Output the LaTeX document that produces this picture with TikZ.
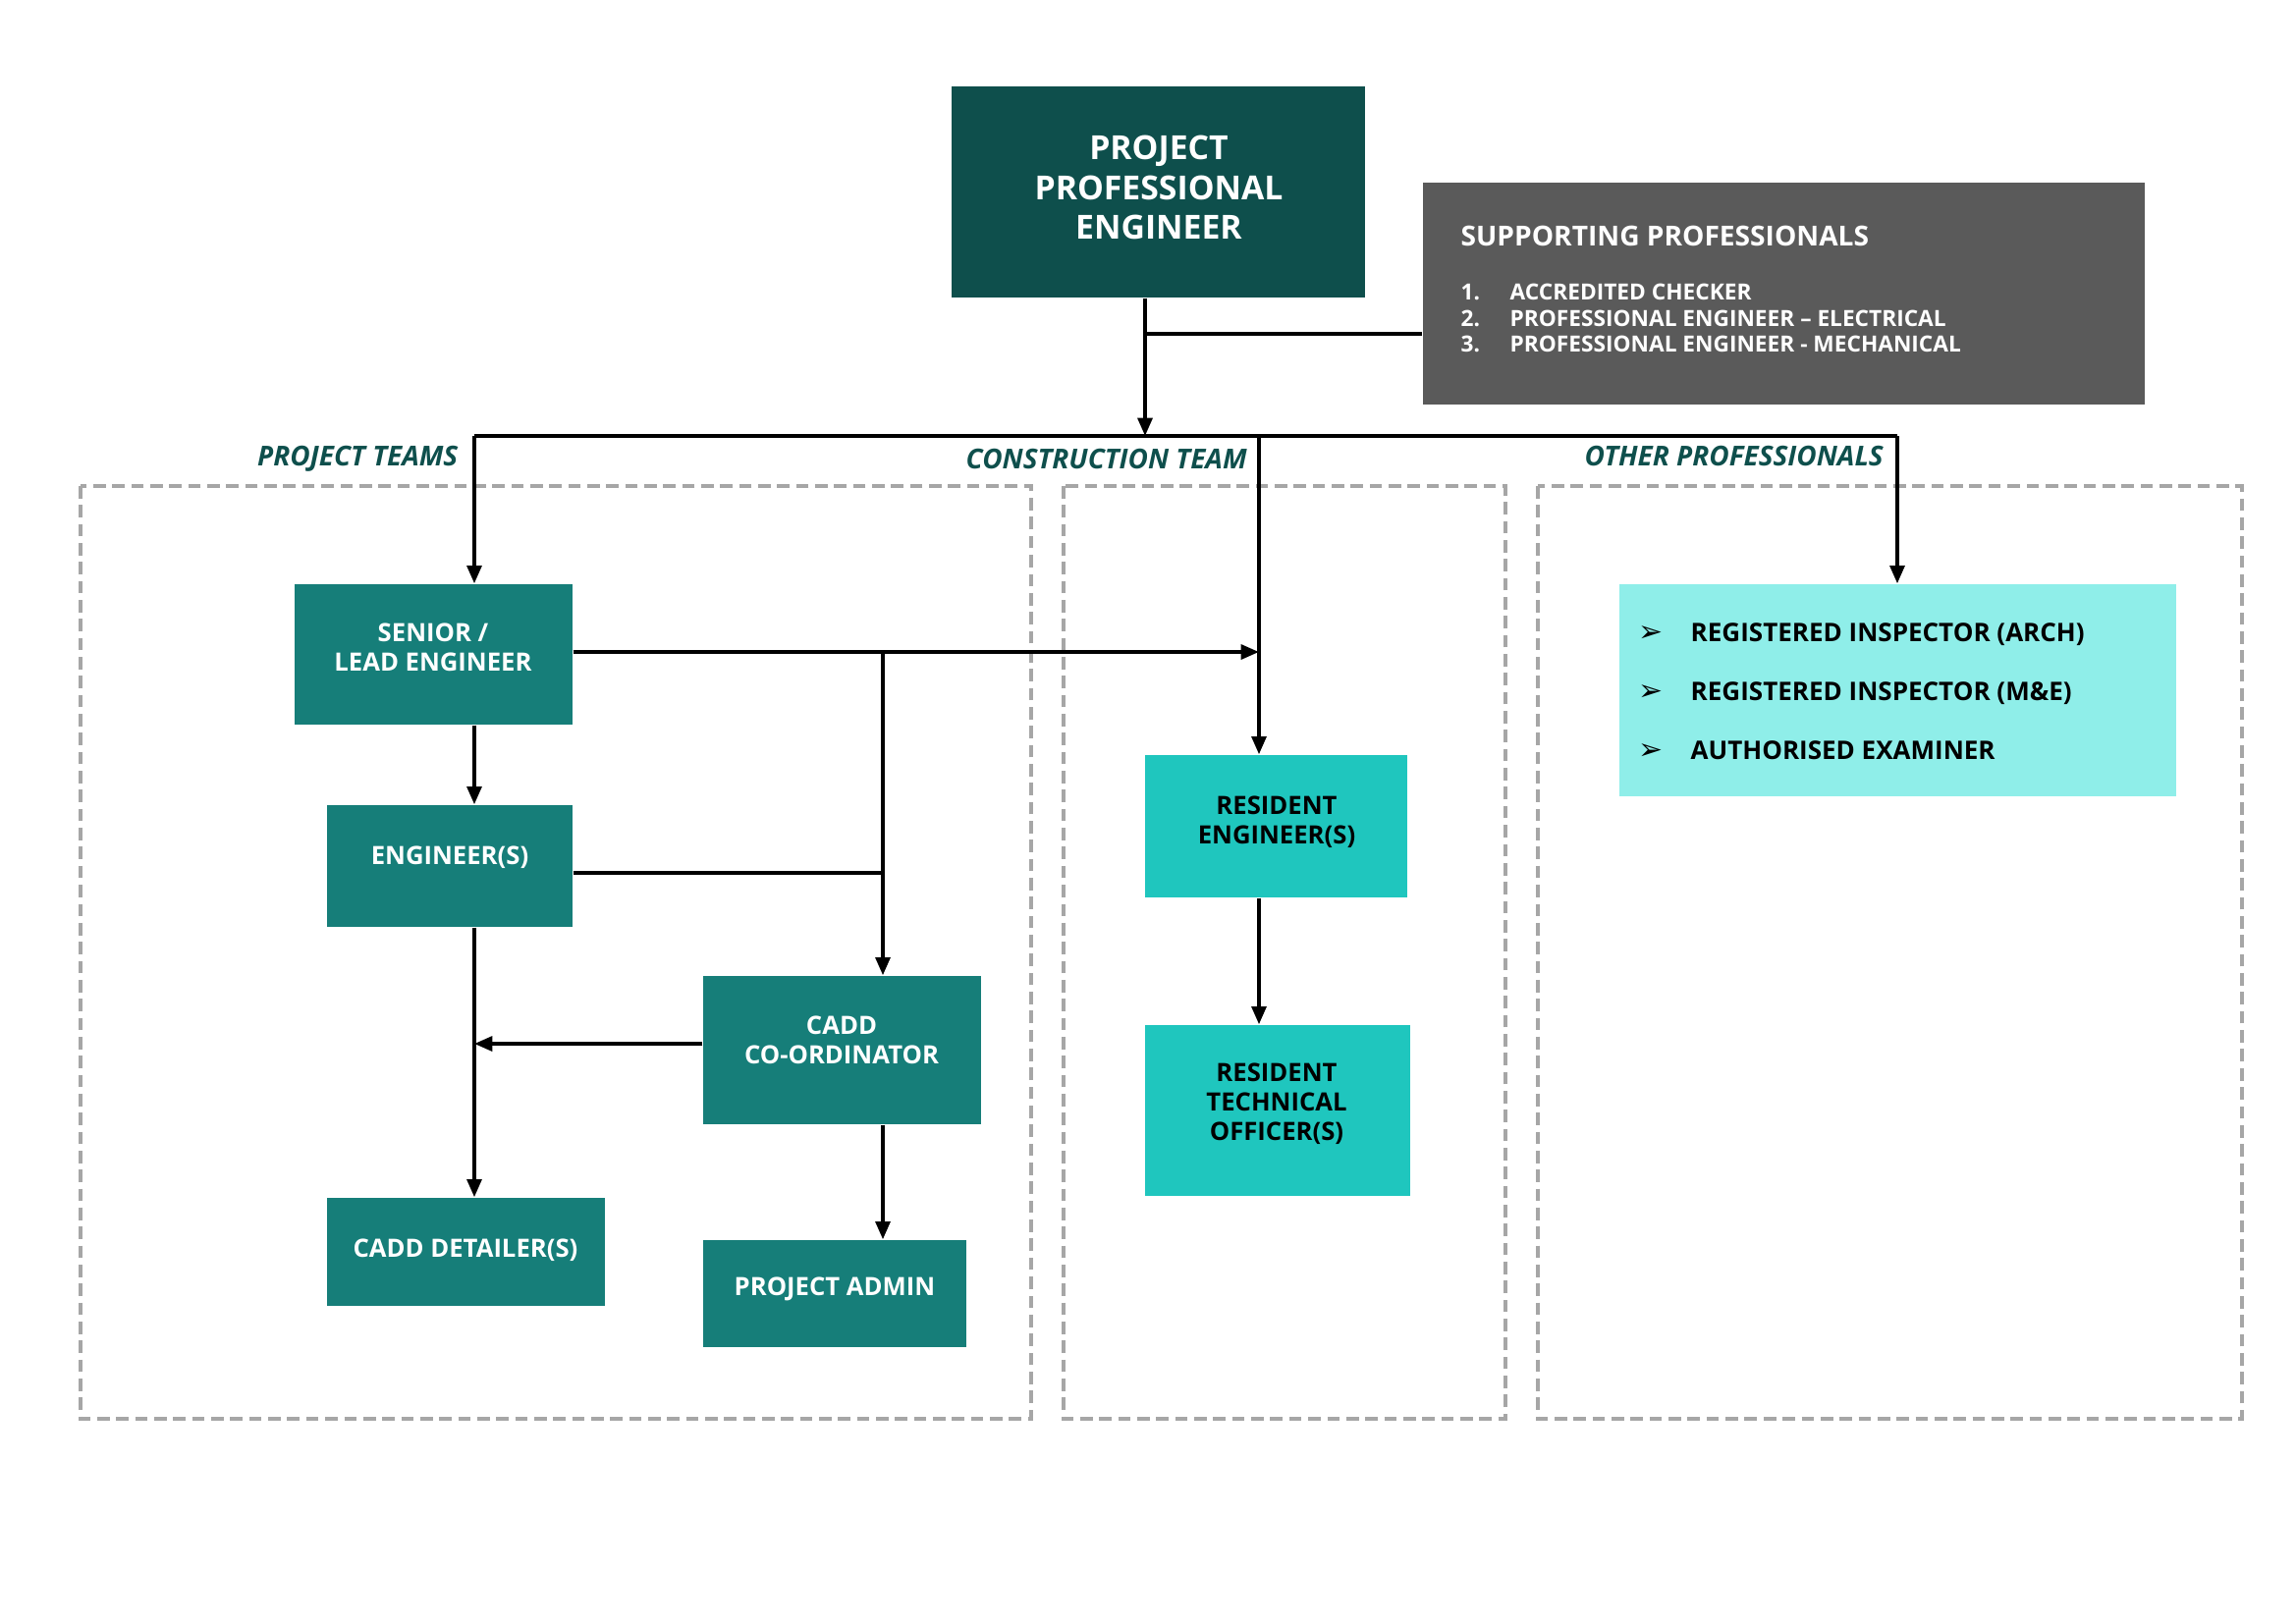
\documentclass[tikz,border=0pt]{standalone}
\usepackage{fontspec}
\setmainfont{Open Sans}
\newfontfamily\symfont{DejaVu Sans}
\usetikzlibrary{arrows.meta,calc,fit}
\definecolor{ppecol}{HTML}{0E4F4C}
\definecolor{tealcol}{HTML}{167E79}
\definecolor{turqcol}{HTML}{1FC6BE}
\definecolor{lightcol}{HTML}{8FEEE9}
\definecolor{graycol}{HTML}{5A5A5A}
\definecolor{dashcol}{HTML}{A6A6A6}
\newcommand{\fppe}{\fontsize{9.6}{11.4}\selectfont\bfseries}
\newcommand{\fsup}{\fontsize{8}{9.6}\selectfont\bfseries}
\newcommand{\fitem}{\fontsize{6.45}{7.7}\selectfont\bfseries}
\newcommand{\fbx}{\fontsize{7.3}{8.5}\selectfont\bfseries}
\newcommand{\fop}{\fontsize{7.4}{9}\selectfont\bfseries}
\newcommand{\flab}{\fontsize{7.95}{9}\selectfont\bfseries\itshape}
\begin{document}
\begin{tikzpicture}[x=0.01cm,y=-0.01cm,
  boxshape/.style={fit={#1}, inner sep=0pt, draw=none},
  txt/.style={inner sep=0pt, align=center},
  ltxt/.style={inner sep=0pt, anchor=west, text height=5.2pt, text depth=0pt},
  line/.style={draw=black, line width=1.05pt},
  arr/.style={line, -{Triangle[length=5.2pt,width=4.2pt]}},
  dashbox/.style={draw=dashcol, line width=0.9pt, dash pattern=on 3.6pt off 1.9pt},
  lab/.style={inner sep=0pt, text=ppecol, font=\flab},
]
\useasboundingbox (0,0) rectangle (2338,1654);
\fill[white] (0,0) rectangle (2338,1654);

% dashed group frames
\draw[dashbox] (82,495) rectangle (1050,1445);
\draw[dashbox] (1083,495) rectangle (1533,1445);
\draw[dashbox] (1566,495) rectangle (2283,1445);

% group labels
\node[lab, anchor=east] (labpt) at (467,467) {PROJECT TEAMS};
\node[lab, anchor=west] (labct) at (983,467) {CONSTRUCTION TEAM};
\node[lab, anchor=west] (labop) at (1613,464) {OTHER PROFESSIONALS};

% top box
\node[boxshape={(969,88) (1390,303)}, fill=ppecol] (ppe) {};
\node[txt, text=white, font=\fppe] (ppet) at (1180,191) {PROJECT\\PROFESSIONAL\\ENGINEER};

% supporting professionals
\node[boxshape={(1449,186) (2184,412)}, fill=graycol] (sup) {};
\node[ltxt, text=white, font=\fsup, text height=6pt] (supt) at (1487,240) {SUPPORTING PROFESSIONALS};
\node[ltxt, text=white, font=\fitem, text height=4.6pt] (supn1) at (1487,297) {1.};
\node[ltxt, text=white, font=\fitem, text height=4.6pt] (supn2) at (1487,324) {2.};
\node[ltxt, text=white, font=\fitem, text height=4.6pt] (supn3) at (1487,350) {3.};
\node[ltxt, text=white, font=\fitem, text height=4.6pt] (supi1) at (1537,297) {ACCREDITED CHECKER};
\node[ltxt, text=white, font=\fitem, text height=4.6pt] (supi2) at (1537,324) {PROFESSIONAL ENGINEER – ELECTRICAL};
\node[ltxt, text=white, font=\fitem, text height=4.6pt] (supi3) at (1537,350) {PROFESSIONAL ENGINEER - MECHANICAL};

% project team boxes
\node[boxshape={(300,595) (583,738)}, fill=tealcol] (senior) {};
\node[txt, text=white, font=\fbx] (seniort) at (441,659) {SENIOR /\\LEAD ENGINEER};
\node[boxshape={(333,820) (583,944)}, fill=tealcol] (eng) {};
\node[txt, text=white, font=\fbx] (engt) at (458,873) {ENGINEER(S)};
\node[boxshape={(716,994) (999,1145)}, fill=tealcol] (cc) {};
\node[txt, text=white, font=\fbx] (cct) at (857,1059) {CADD\\CO-ORDINATOR};
\node[boxshape={(333,1220) (616,1330)}, fill=tealcol] (det) {};
\node[txt, text=white, font=\fbx] (dett) at (474,1273) {CADD DETAILER(S)};
\node[boxshape={(716,1263) (984,1372)}, fill=tealcol] (pa) {};
\node[txt, text=white, font=\fbx] (pat) at (850,1313) {PROJECT ADMIN};

% construction team boxes
\node[boxshape={(1166,769) (1433,914)}, fill=turqcol] (re) {};
\node[txt, text=black, font=\fbx] (ret) at (1300,837) {RESIDENT\\ENGINEER(S)};
\node[boxshape={(1166,1044) (1436,1218)}, fill=turqcol] (rto) {};
\node[txt, text=black, font=\fbx] (rtot) at (1300,1124) {RESIDENT\\TECHNICAL\\OFFICER(S)};

% other professionals
\node[boxshape={(1649,595) (2216,811)}, fill=lightcol] (op) {};
\node[ltxt, font=\symfont\fontsize{8.5}{9}\selectfont, text height=3.5pt] (opb1) at (1668,647) {➢};
\node[ltxt, font=\symfont\fontsize{8.5}{9}\selectfont, text height=3.5pt] (opb2) at (1668,707) {➢};
\node[ltxt, font=\symfont\fontsize{8.5}{9}\selectfont, text height=3.5pt] (opb3) at (1668,767) {➢};
\node[ltxt, font=\fop, text height=5.3pt] (opi1) at (1721,644) {REGISTERED INSPECTOR (ARCH)};
\node[ltxt, font=\fop, text height=5.3pt] (opi2) at (1721,704) {REGISTERED INSPECTOR (M\&E)};
\node[ltxt, font=\fop, text height=5.3pt] (opi3) at (1721,764) {AUTHORISED EXAMINER};

% connector points
\coordinate (busL) at (483,444);
\coordinate (busP) at (1166,444);
\coordinate (busC) at (1282,444);
\coordinate (busR) at (1932,444);
\coordinate (sideP) at (1166,340);
\coordinate (jS) at (899,664);
\coordinate (jE) at (899,889);
\coordinate (jC) at (716,1063);

% connectors
\draw[line] (busL) -- (busR);
\draw[arr] (ppe.south -| busP) -- (busP);
\draw[line] (sideP) -- (sideP -| sup.west);
\draw[arr] (busL) -- (senior.north -| busL);
\draw[arr] (busC) -- (re.north -| busC);
\draw[arr] (busR) -- (op.north -| busR);
\draw[arr] (jS -| senior.east) -- (jS -| busC);
\draw[arr] (jS) -- (cc.north -| jS);
\draw[arr] (senior.south -| busL) -- (eng.north -| busL);
\draw[line] (jE -| eng.east) -- (jE);
\draw[arr] (eng.south -| busL) -- (det.north -| busL);
\draw[arr] (jC -| cc.west) -- (jC -| busL);
\draw[arr] (cc.south -| jS) -- (pa.north -| jS);
\draw[arr] (re.south -| busC) -- (rto.north -| busC);
\end{tikzpicture}
\end{document}
